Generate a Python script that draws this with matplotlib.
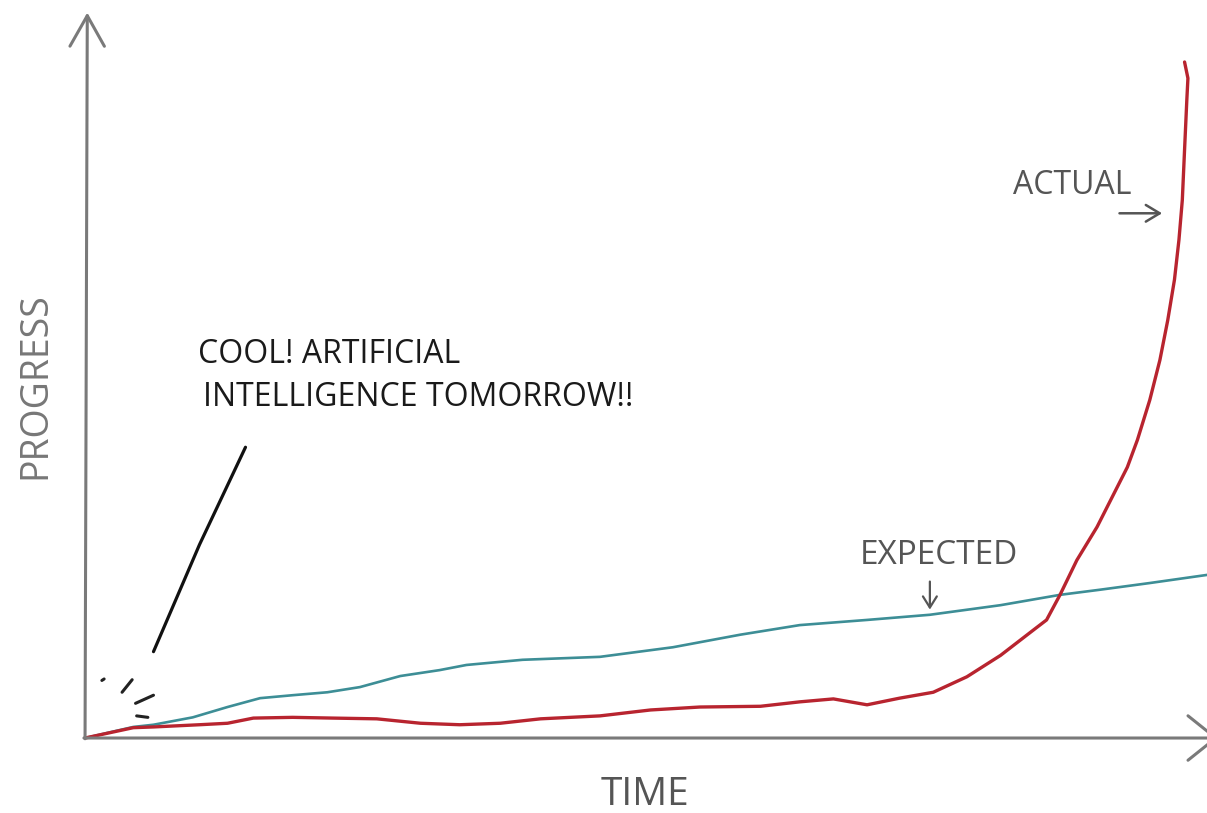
import matplotlib
matplotlib.use("Agg")
import matplotlib.pyplot as plt

# time / progress (time 0..100 across, progress 0..100 up)
expected_t = [0, 4.3, 6.1, 9.6, 12.7, 15.6, 18.5, 21.6, 24.5, 28.1, 31.6, 34.0, 39.0,
              45.9, 52.4, 58.4, 63.7, 69.7, 75.3, 81.6, 86.9, 90.5, 94.9, 100]
expected_p = [0, 1.5, 1.8, 2.8, 4.2, 5.4, 5.8, 6.2, 6.9, 8.4, 9.2, 9.9, 10.6,
              11.0, 12.3, 14.0, 15.3, 16.0, 16.7, 18.0, 19.4, 20.1, 21.0, 22.1]

actual_t = [0, 4.3, 6.1, 10.2, 12.7, 15.0, 18.5, 22.1, 26.0, 29.9, 33.4, 37.0, 40.6,
            45.9, 50.4, 54.8, 60.2, 63.7, 66.7, 69.7, 72.6, 75.6, 78.6, 81.6, 84.5,
            85.7, 86.9, 88.4, 90.2, 91.4, 92.9, 93.8, 94.9, 95.8, 96.5, 97.1, 97.5,
            97.8, 98.0, 98.2, 98.3, 98.0]
actual_p = [0, 1.4, 1.5, 1.8, 2.0, 2.7, 2.8, 2.7, 2.6, 2.0, 1.8, 2.0, 2.6,
            3.0, 3.8, 4.2, 4.3, 4.9, 5.3, 4.5, 5.4, 6.2, 8.3, 11.2, 14.6,
            16.0, 19.4, 24.1, 28.6, 32.2, 36.7, 40.4, 45.8, 51.2, 56.6, 62.1, 67.5,
            72.9, 79.7, 86.4, 89.4, 91.6]

# pointer from the "cool!" remark down to the start of the curve
pointer_t = [6.1, 10.2, 14.3]
pointer_p = [11.7, 26.2, 39.4]

# little excitement strokes near the origin
sparks = [([1.5, 1.7], [7.8, 8.0]),
          ([3.3, 4.2], [6.2, 7.9]),
          ([4.5, 6.1], [4.7, 5.8]),
          ([4.6, 5.6], [3.0, 2.8])]

fig = plt.figure(figsize=(12.07, 8.13), dpi=100)
ax = fig.add_axes([0, 0, 1, 1])
ax.set_xlim(-7.58, 100)
ax.set_ylim(-10.16, 100)
ax.axis("off")

axis_col = "#7a7a7a"
ax.annotate("", xy=(0.2, 98.3), xytext=(0, -0.1), annotation_clip=False,
            arrowprops=dict(arrowstyle="->,head_length=1.1,head_width=0.62",
                            mutation_scale=20, color=axis_col, lw=2.2,
                            shrinkA=0, shrinkB=0))
ax.annotate("", xy=(101.0, 0), xytext=(-0.1, 0), annotation_clip=False,
            arrowprops=dict(arrowstyle="->,head_length=1.0,head_width=0.8",
                            mutation_scale=20, color=axis_col, lw=2.2,
                            shrinkA=0, shrinkB=0))

ax.plot(expected_t, expected_p, color="#3d8e96", lw=1.9, solid_capstyle="round",
        solid_joinstyle="round")
ax.plot(actual_t, actual_p, color="#b8242f", lw=2.4, solid_capstyle="round",
        solid_joinstyle="round")
ax.plot(pointer_t, pointer_p, color="#111111", lw=2.3, solid_capstyle="round")
for xs, ys in sparks:
    ax.plot(xs, ys, color="#222222", lw=2.2, solid_capstyle="round")

font = "Open Sans"
ax.text(-4.46, 47.8, "PROGRESS", rotation=90, ha="center", va="center",
        fontsize=27, color="#777777", family=font)
ax.text(49.9, -7.7, "TIME", ha="center", va="center", fontsize=28,
        color="#555555", family=font)
ax.text(10.1, 52.0, "COOL! ARTIFICIAL", ha="left", va="center", fontsize=23,
        color="#1a1a1a", family=font)
ax.text(10.5, 46.1, "INTELLIGENCE TOMORROW!!", ha="left", va="center", fontsize=23,
        color="#1a1a1a", family=font)

ax.text(76.1, 24.7, "EXPECTED", ha="center", va="center", fontsize=24,
        color="#555555", family=font)
ax.annotate("", xy=(75.3, 17.4), xytext=(75.3, 21.2),
            arrowprops=dict(arrowstyle="->,head_length=0.4,head_width=0.25",
                            mutation_scale=20, color="#555555", lw=1.6,
                            shrinkA=0, shrinkB=0))
ax.text(88.0, 74.9, "ACTUAL", ha="center", va="center", fontsize=23,
        color="#555555", family=font)
ax.annotate("", xy=(96.0, 71.1), xytext=(92.2, 71.1),
            arrowprops=dict(arrowstyle="->,head_length=0.5,head_width=0.3",
                            mutation_scale=20, color="#555555", lw=1.8,
                            shrinkA=0, shrinkB=0))

fig.savefig("out.png", dpi=100, facecolor="white")
